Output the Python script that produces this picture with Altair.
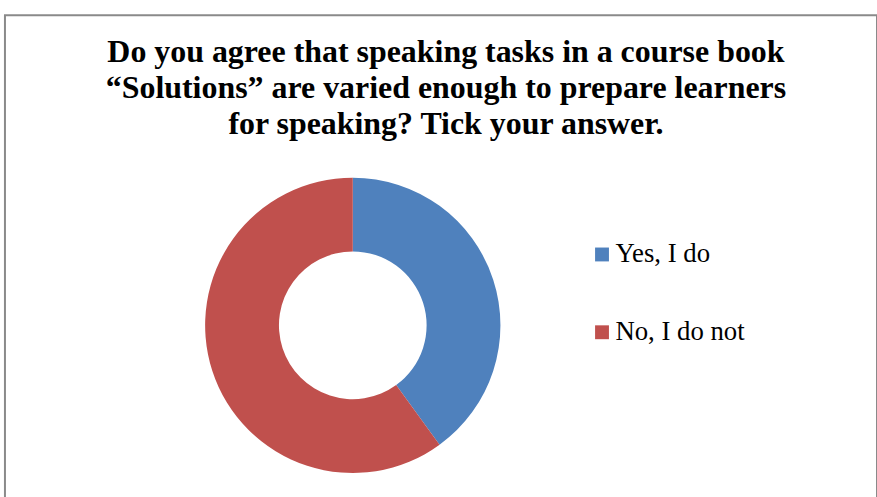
import altair as alt
import pandas as pd

# Survey answers (percent of respondents)
answers = ["Yes, I do", "No, I do not"]
shares = [40, 60]
colors = ["#4F81BD", "#C0504D"]

title_lines = [
    "Do you agree that speaking tasks in a course book",
    "\u201cSolutions\u201d are varied enough to prepare learners",
    "for speaking? Tick your answer.",
]

df = pd.DataFrame({"answer": answers, "share": shares, "order": list(range(len(answers)))})

donut = alt.Chart(df).mark_arc(outerRadius=149, innerRadius=74.5).encode(
    theta=alt.Theta("share:Q", stack=True),
    order=alt.Order("order:Q"),
    color=alt.Color(
        "answer:N",
        sort=answers,
        scale=alt.Scale(domain=answers, range=colors),
        legend=alt.Legend(
            title=None,
            orient="none",
            legendX=589,
            legendY=228,
            symbolType="square",
            symbolSize=196,
            symbolStrokeWidth=0,
            labelFont="Liberation Serif",
            labelFontSize=27,
            labelColor="#000000",
            labelOffset=0,
            rowPadding=50.5,
            padding=0,
        ),
    ),
    x=alt.value(351),
    y=alt.value(313),
)

heading = alt.Chart(pd.DataFrame({"k": [0]})).mark_text(
    text=title_lines,
    font="Liberation Serif",
    fontSize=32.2,
    fontWeight="bold",
    color="#000000",
    align="center",
    baseline="alphabetic",
    lineHeight=36.5,
).encode(x=alt.value(445), y=alt.value(47))

chart = (
    alt.layer(donut, heading)
    .properties(
        width=880,
        height=490,
        autosize=alt.AutoSizeParams(type="none"),
        padding={"left": 5, "top": 13, "right": 0, "bottom": 0},
        background="#ffffff",
    )
    .configure_view(stroke="#8a8a8a", strokeWidth=2)
)

chart.save("out.html", embed_options={"renderer": "svg", "actions": False})
